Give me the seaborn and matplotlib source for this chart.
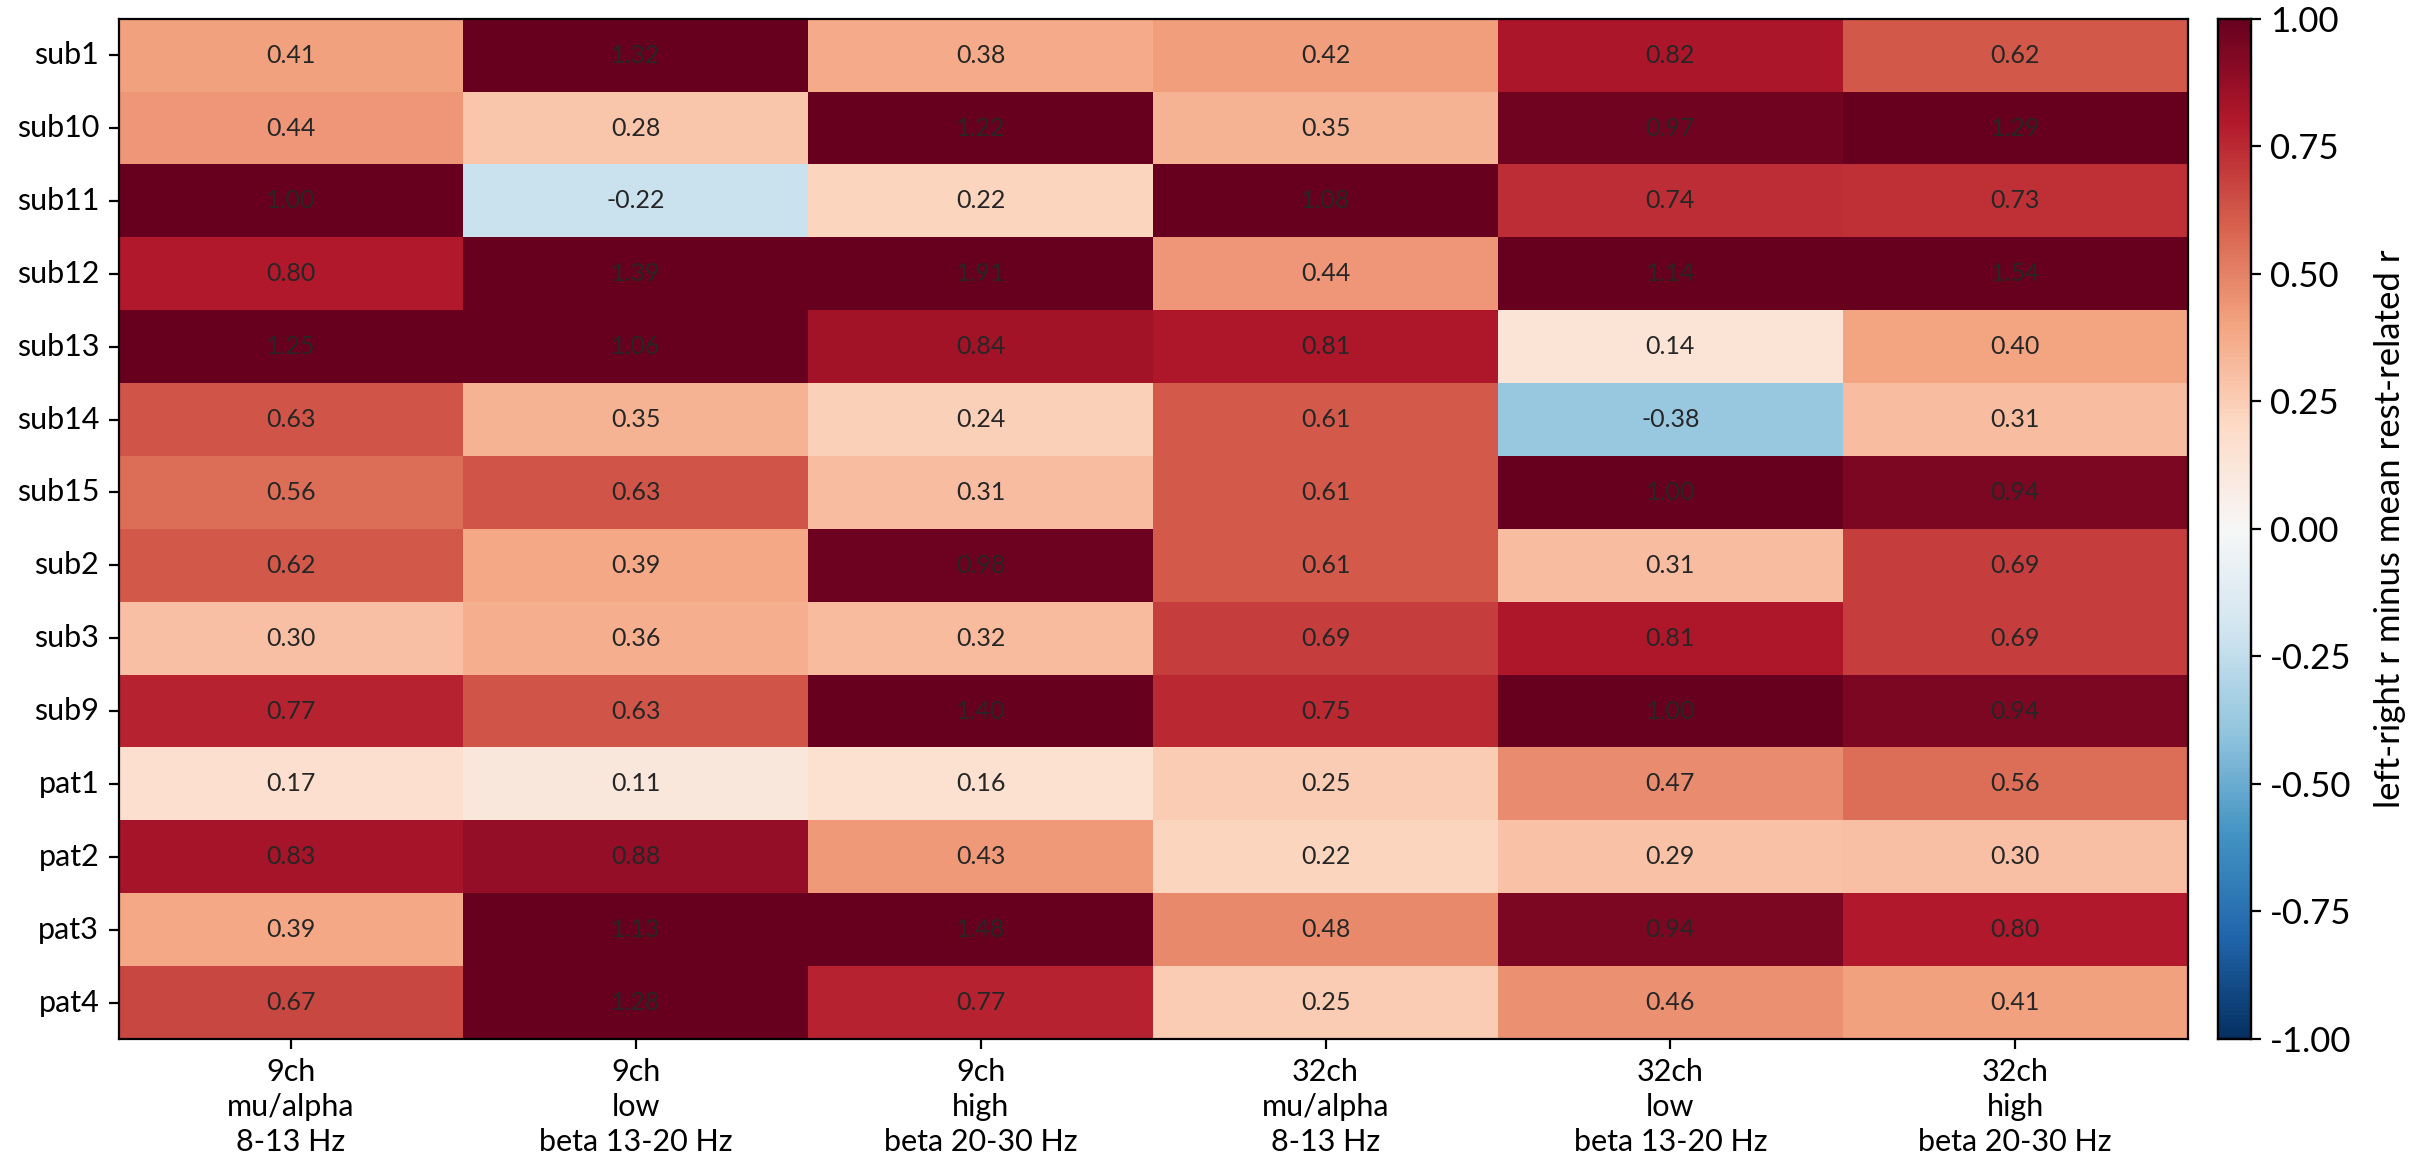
import numpy as np
import pandas as pd
import matplotlib
matplotlib.use("Agg")
import matplotlib.pyplot as plt
import seaborn as sns

subjects = ["sub1", "sub10", "sub11", "sub12", "sub13", "sub14", "sub15",
            "sub2", "sub3", "sub9", "pat1", "pat2", "pat3", "pat4"]
conditions = ["9ch\nmu/alpha\n8-13 Hz", "9ch\nlow\nbeta 13-20 Hz", "9ch\nhigh\nbeta 20-30 Hz",
              "32ch\nmu/alpha\n8-13 Hz", "32ch\nlow\nbeta 13-20 Hz", "32ch\nhigh\nbeta 20-30 Hz"]

ch9_mu = [0.41, 0.44, 1.00, 0.80, 1.25, 0.63, 0.56, 0.62, 0.30, 0.77, 0.17, 0.83, 0.39, 0.67]
ch9_low = [1.32, 0.28, -0.22, 1.39, 1.06, 0.35, 0.63, 0.39, 0.36, 0.63, 0.11, 0.88, 1.13, 1.28]
ch9_high = [0.38, 1.22, 0.22, 1.91, 0.84, 0.24, 0.31, 0.98, 0.32, 1.40, 0.16, 0.43, 1.48, 0.77]
ch32_mu = [0.42, 0.35, 1.08, 0.44, 0.81, 0.61, 0.61, 0.61, 0.69, 0.75, 0.25, 0.22, 0.48, 0.25]
ch32_low = [0.82, 0.97, 0.74, 1.14, 0.14, -0.38, 1.00, 0.31, 0.81, 1.00, 0.47, 0.29, 0.94, 0.46]
ch32_high = [0.62, 1.29, 0.73, 1.54, 0.40, 0.31, 0.94, 0.69, 0.69, 0.94, 0.56, 0.30, 0.80, 0.41]

cbar_label = "left-right r minus mean rest-related r"

df = pd.DataFrame(np.column_stack([ch9_mu, ch9_low, ch9_high, ch32_mu, ch32_low, ch32_high]),
                  index=subjects, columns=conditions)

plt.rcParams['font.family'] = ['Lato', 'DejaVu Sans']

fig = plt.figure(figsize=(12.1, 5.85), dpi=200)
ax = fig.add_axes([0.049, 0.112, 0.855, 0.872])
cax = fig.add_axes([0.9165, 0.112, 0.0135, 0.872])

sns.heatmap(df, ax=ax, cbar_ax=cax, cmap="RdBu_r", vmin=-1, vmax=1,
            annot=True, fmt=".2f", annot_kws={"fontsize": 9, "color": "#262626"},
            cbar_kws={"ticks": np.linspace(-1, 1, 9), "format": "%.2f"})

for s in ax.spines.values():
    s.set_visible(True)
    s.set_color("black")
    s.set_linewidth(0.8)
ax.tick_params(axis="both", labelsize=11, length=3.5)
ax.set_yticklabels(subjects, rotation=0)
ax.set_xticklabels(conditions, rotation=0, ha="center", linespacing=1.3)
ax.set_xlabel("")
ax.set_ylabel("")

cax.tick_params(labelsize=12.5, length=3.5)
cax.set_ylabel(cbar_label, fontsize=12.5, labelpad=8)
for s in cax.spines.values():
    s.set_visible(True)
    s.set_linewidth(0.8)

fig.savefig("out.png", dpi=200)
